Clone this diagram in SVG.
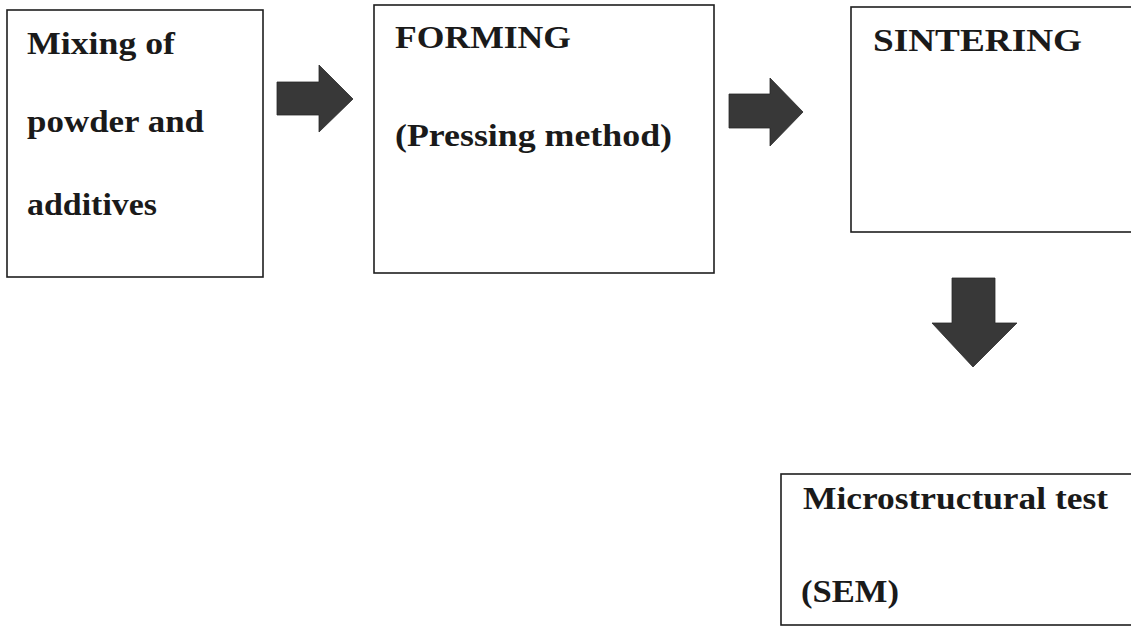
<svg xmlns="http://www.w3.org/2000/svg" width="1131" height="639" viewBox="0 0 1131 639">
<style>
.box{fill:#ffffff;stroke:#1e1e1e;stroke-width:1.6}
.t{font-family:"Liberation Serif","Times New Roman",serif;font-weight:bold;font-size:32px;fill:#1a1a1a}
.arr{fill:#383838;stroke:#2a2a2a;stroke-width:0.8}
</style>
<rect width="1131" height="639" fill="#ffffff"/>
<g id="node-mixing">
<rect class="box" x="7" y="10" width="256" height="267"/>
<text class="t" x="27" y="54" textLength="148" lengthAdjust="spacingAndGlyphs">Mixing of</text>
<text class="t" x="27" y="132" textLength="177" lengthAdjust="spacingAndGlyphs">powder and</text>
<text class="t" x="27" y="215" textLength="130" lengthAdjust="spacingAndGlyphs">additives</text>
</g>
<g id="node-forming">
<rect class="box" x="374" y="5" width="340" height="268"/>
<text class="t" x="395" y="48" textLength="176" lengthAdjust="spacingAndGlyphs">FORMING</text>
<text class="t" x="395" y="146" textLength="277" lengthAdjust="spacingAndGlyphs">(Pressing method)</text>
</g>
<g id="node-sintering">
<rect class="box" x="851" y="7" width="300" height="225"/>
<text class="t" x="873" y="51" textLength="209" lengthAdjust="spacingAndGlyphs">SINTERING</text>
</g>
<g id="node-micro">
<rect class="box" x="781" y="474" width="370" height="151"/>
<text class="t" x="803" y="509" textLength="305" lengthAdjust="spacingAndGlyphs">Microstructural test</text>
<text class="t" x="801" y="602" textLength="98" lengthAdjust="spacingAndGlyphs">(SEM)</text>
</g>
<g id="connectors">
<polygon class="arr" points="277,82 319,82 319,65 353,99 319,132 319,115 277,115"/>
<polygon class="arr" points="729,94 770,94 770,78 803,112 770,146 770,128 729,128"/>
<polygon class="arr" points="952,278 995,278 995,323 1017,323 973,367 932,323 952,323"/>
</g>
</svg>
